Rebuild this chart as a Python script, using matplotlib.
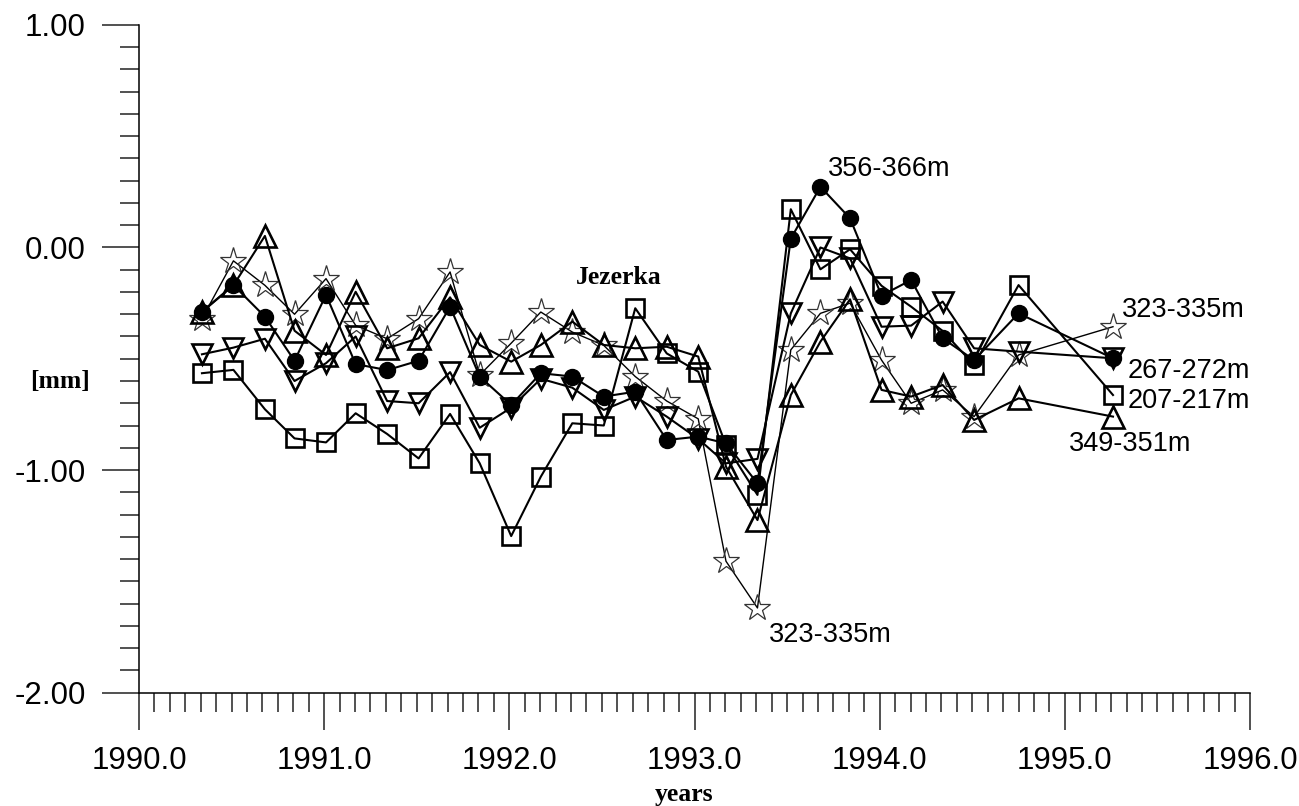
import matplotlib
matplotlib.use("Agg")
import matplotlib.pyplot as plt
from matplotlib.ticker import MultipleLocator, FormatStrFormatter

# measurement dates (decimal years), every ~2 months
dates = [1990.34, 1990.51, 1990.68, 1990.84, 1991.01, 1991.17, 1991.34, 1991.51,
         1991.68, 1991.84, 1992.01, 1992.17, 1992.34, 1992.51, 1992.68, 1992.85,
         1993.02, 1993.17, 1993.34, 1993.52, 1993.68, 1993.84, 1994.01, 1994.17,
         1994.34, 1994.51, 1994.75, 1995.26]

# displacement [mm] per depth interval
sq_207 = [-0.565, -0.55, -0.727, -0.858, -0.876, -0.745, -0.838, -0.948,
          -0.748, -0.97, -1.297, -1.03, -0.79, -0.80, -0.273, -0.476,
          -0.558, -0.888, -1.112, 0.172, -0.098, -0.008, -0.172, -0.266,
          -0.375, -0.528, -0.169, -0.663]
circ_356 = [-0.288, -0.169, -0.311, -0.509, -0.213, -0.524, -0.551, -0.509,
            -0.266, -0.58, -0.708, -0.565, -0.58, -0.67, -0.648, -0.865,
            -0.85, -0.88, -1.06, 0.04, 0.273, 0.131, -0.216, -0.146,
            -0.408, -0.506, -0.296, -0.498]
tri_349 = [-0.29, -0.17, 0.052, -0.374, -0.483, -0.199, -0.453, -0.408,
           -0.224, -0.438, -0.513, -0.438, -0.333, -0.438, -0.453, -0.446,
           -0.49, -0.985, -1.225, -0.663, -0.423, -0.233, -0.64, -0.67,
           -0.618, -0.775, -0.678, -0.76]
dtri_267 = [-0.48, -0.45, -0.41, -0.60, -0.52, -0.40, -0.69, -0.70,
            -0.56, -0.81, -0.72, -0.59, -0.63, -0.73, -0.67, -0.76,
            -0.86, -0.97, -0.95, -0.296, 0.0, -0.049, -0.356, -0.351,
            -0.243, -0.453, -0.468, -0.498]
star_323 = [-0.32, -0.06, -0.17, -0.30, -0.14, -0.35, -0.41, -0.32,
            -0.11, -0.573, -0.43, -0.29, -0.38, -0.44, -0.58, -0.69,
            -0.77, -1.41, -1.62, -0.46, -0.296, -0.25, -0.506, -0.70,
            -0.64, -0.76, -0.483, -0.356]

plt.rcParams['font.family'] = ['Liberation Sans', 'DejaVu Sans']
plt.rcParams['axes.unicode_minus'] = False

fig = plt.figure(figsize=(12.99, 8.06), dpi=100)
ax = fig.add_axes([0.107, 0.1408, 0.8553, 0.8282])

ax.plot(dates, star_323, color='black', lw=1.0, marker='*', ms=19.5,
        mfc='none', mec='#333333', mew=0.9)
ax.plot(dates, sq_207, color='black', lw=1.5, marker='s', ms=13.5,
        mfc='none', mec='black', mew=1.9)
ax.plot(dates, tri_349, color='black', lw=1.5, marker='^', ms=15.5,
        mfc='none', mec='black', mew=1.9)
ax.plot(dates, dtri_267, color='black', lw=1.5, marker='v', ms=15,
        mfc='none', mec='black', mew=1.9)
ax.plot(dates, circ_356, color='black', lw=1.5, marker='o', ms=11.5,
        mfc='black', mec='black')

ax.set_xlim(1990, 1996)
ax.set_ylim(-2, 1)
ax.xaxis.set_major_locator(MultipleLocator(1))
ax.xaxis.set_minor_locator(MultipleLocator(1 / 12))
ax.yaxis.set_major_locator(MultipleLocator(1))
ax.yaxis.set_minor_locator(MultipleLocator(0.1))
ax.xaxis.set_major_formatter(FormatStrFormatter('%.1f'))
ax.yaxis.set_major_formatter(FormatStrFormatter('%.2f'))
ax.tick_params(which='major', direction='out', length=26.5, width=1.1,
               labelsize=22.5, pad=12, color='#222222')
ax.tick_params(which='minor', direction='out', length=13.5, width=1.1,
               color='#222222')
for s in ['top', 'right']:
    ax.spines[s].set_visible(False)
for s in ['left', 'bottom']:
    ax.spines[s].set_linewidth(1.1)

# series labels
lab = dict(fontsize=19.5, va='center', ha='left')
ax.text(1993.72, 0.355, '356-366m', **lab)
ax.text(1995.31, -0.28, '323-335m', **lab)
ax.text(1995.34, -0.555, '267-272m', **lab)
ax.text(1995.34, -0.69, '207-217m', **lab)
ax.text(1995.02, -0.883, '349-351m', **lab)
ax.text(1993.40, -1.742, '323-335m', **lab)

serif = dict(family=['Liberation Serif', 'DejaVu Serif'], weight='bold',
             fontsize=18.5, va='center', ha='center')
ax.text(1992.59, -0.133, 'Jezerka', **serif)
fig.text(60 / 1299, 1 - 382 / 806, '[mm]', **serif)
fig.text(684 / 1299, 1 - 795 / 806, 'years', **serif)

fig.savefig('out.png', dpi=100)
